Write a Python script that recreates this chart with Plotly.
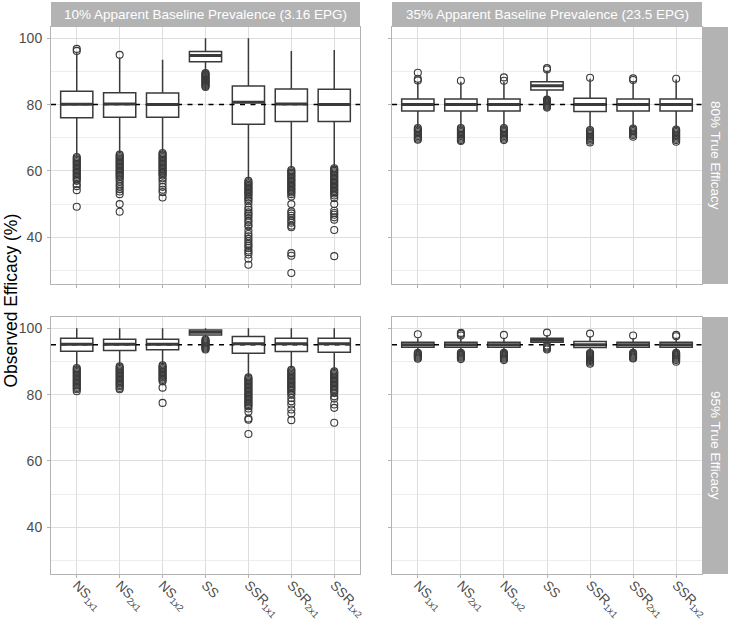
import plotly.graph_objects as go

# ---------------- DATA ----------------
categories = ["NS<sub>1x1</sub>", "NS<sub>2x1</sub>", "NS<sub>1x2</sub>", "SS",
              "SSR<sub>1x1</sub>", "SSR<sub>2x1</sub>", "SSR<sub>1x2</sub>"]
col_labels = ["10% Apparent Baseline Prevalence (3.16 EPG)",
              "35% Apparent Baseline Prevalence (23.5 EPG)"]
row_labels = ["80% True Efficacy", "95% True Efficacy"]
true_efficacy = [80, 95]
y_ticks = [40, 60, 80, 100]

# Panel: 10% prevalence, 80% true efficacy
tl_q3 = [84.0, 83.6, 83.5, 96.0, 85.6, 84.7, 84.6]
tl_med = [80.1, 80.2, 80.0, 94.8, 80.7, 80.2, 80.0]
tl_q1 = [76.0, 76.2, 76.2, 92.9, 74.1, 74.9, 74.9]
tl_hi = [95.5, 94.2, 93.5, 100.0, 100.0, 96.2, 96.5]
tl_lo = [64.6, 65.3, 65.8, 89.8, 57.3, 60.8, 61.3]
tl_out = [
    [96.2, 96.8, 64.2, 63.8, 63.4, 63.0, 62.6, 62.2, 61.8, 61.4, 61.0, 60.6, 60.2, 59.8, 59.4,
     59.0, 58.6, 58.2, 57.8, 57.4, 57.0, 56.0, 55.4, 54.2, 49.2],
    [95.0, 64.9, 64.5, 64.1, 63.7, 63.3, 62.9, 62.5, 62.1, 61.7, 61.3, 60.9, 60.5, 60.1, 59.7,
     59.3, 58.9, 58.5, 58.1, 57.5, 56.8, 56.0, 55.3, 54.5, 53.8, 53.0, 50.0, 47.7],
    [65.4, 65.0, 64.6, 64.2, 63.8, 63.4, 63.0, 62.6, 62.2, 61.8, 61.4, 61.0, 60.6, 60.2, 59.8,
     59.4, 59.0, 58.6, 57.8, 57.2, 56.2, 55.2, 54.3, 53.6, 52.0],
    [89.5, 89.2, 88.9, 88.6, 88.3, 88.0, 87.7, 87.4, 87.1, 86.8, 86.5, 86.2, 85.9, 85.6, 85.3],
    [57.0, 56.6, 56.2, 55.8, 55.4, 55.0, 54.6, 54.2, 53.8, 53.4, 53.0, 52.6, 52.0, 51.5, 51.0,
     50.2, 49.0, 48.3, 47.5, 47.0, 46.5, 45.8, 45.0, 44.5, 43.6, 43.3, 42.0, 41.0, 40.3, 39.5,
     38.8, 38.0, 37.4, 36.8, 36.0, 35.5, 34.8, 33.5, 31.7],
    [60.3, 59.9, 59.5, 59.1, 58.7, 58.3, 57.9, 57.5, 57.1, 56.7, 56.3, 55.9, 55.5, 55.1, 54.7,
     54.3, 53.9, 53.5, 53.0, 52.3, 50.0, 47.8, 47.2, 46.5, 45.8, 45.0, 44.4, 43.5, 43.0, 35.2,
     34.4, 29.2],
    [60.8, 60.4, 60.0, 59.6, 59.2, 58.8, 58.4, 58.0, 57.6, 57.2, 56.8, 56.4, 56.0, 55.6, 55.2,
     54.8, 54.4, 54.0, 53.6, 53.2, 52.6, 51.8, 50.0, 48.0, 47.3, 46.8, 46.0, 45.3, 42.2, 34.3],
]

# Panel: 35% prevalence, 80% true efficacy
tr_q3 = [81.7, 81.7, 81.7, 86.9, 81.9, 81.7, 81.7]
tr_med = [80.0, 80.0, 80.0, 85.7, 80.0, 80.0, 80.0]
tr_q1 = [78.1, 78.1, 78.1, 84.4, 77.9, 78.1, 78.1]
tr_hi = [86.9, 86.9, 86.9, 90.2, 87.8, 87.0, 87.6]
tr_lo = [73.2, 73.2, 73.2, 81.8, 72.7, 73.2, 72.8]
tr_out = [
    [87.3, 87.8, 89.6, 72.9, 72.5, 72.1, 71.7, 71.3, 70.9, 70.5, 70.1, 69.7, 69.4],
    [87.2, 72.9, 72.5, 72.1, 71.7, 71.3, 70.9, 70.5, 70.1, 69.7, 69.3, 69.0],
    [87.2, 88.2, 72.9, 72.5, 72.1, 71.7, 71.3, 70.9, 70.5, 70.1, 69.7, 69.3],
    [90.6, 91.0, 81.5, 81.2, 80.9, 80.6, 80.3, 80.0, 79.7, 79.4, 79.1],
    [88.1, 72.3, 71.9, 71.5, 71.1, 70.7, 70.3, 69.9, 69.5, 69.1, 68.6],
    [87.4, 87.9, 72.8, 72.4, 72.0, 71.6, 71.2, 70.8, 70.3],
    [87.8, 72.5, 72.1, 71.7, 71.3, 70.9, 70.5, 70.1, 69.7, 69.3, 68.8],
]

# Panel: 10% prevalence, 95% true efficacy
bl_q3 = [97.0, 96.7, 96.7, 99.5, 97.5, 97.0, 97.0]
bl_med = [95.2, 95.2, 95.2, 98.8, 95.3, 95.3, 95.3]
bl_q1 = [93.1, 93.3, 93.5, 98.0, 92.5, 93.0, 92.8]
bl_hi = [100.0, 100.0, 100.0, 100.0, 100.0, 100.0, 100.0]
bl_lo = [88.2, 88.7, 89.0, 97.3, 85.6, 87.9, 87.4]
bl_out = [
    [88.0, 87.6, 87.2, 86.8, 86.4, 86.0, 85.6, 85.2, 84.8, 84.4, 84.0, 83.6, 83.2, 82.8, 82.4,
     82.0, 81.6, 81.0],
    [88.5, 88.1, 87.7, 87.3, 86.9, 86.5, 86.1, 85.7, 85.3, 84.9, 84.5, 84.1, 83.7, 83.3, 82.9,
     82.5, 82.0, 81.6],
    [88.8, 88.4, 88.0, 87.6, 87.2, 86.8, 86.4, 86.0, 85.6, 85.2, 84.8, 84.4, 84.0, 82.1, 77.5],
    [96.6, 96.3, 96.0, 95.7, 95.4, 95.1, 94.8, 94.5, 94.2, 93.9, 93.6],
    [85.2, 84.8, 84.4, 84.0, 83.6, 83.2, 82.8, 82.4, 82.0, 81.6, 81.2, 80.8, 80.4, 80.0, 79.6,
     79.2, 78.8, 78.4, 78.0, 77.6, 77.2, 76.8, 76.5, 75.8, 74.8, 72.8, 72.4, 68.1],
    [87.5, 87.1, 86.7, 86.3, 85.9, 85.5, 85.1, 84.7, 84.3, 83.9, 83.5, 83.1, 82.7, 82.3, 81.9,
     81.5, 81.1, 80.5, 80.0, 79.0, 78.0, 77.0, 75.5, 74.3, 72.3],
    [87.0, 86.6, 86.2, 85.8, 85.4, 85.0, 84.6, 84.2, 83.8, 83.4, 83.0, 82.6, 82.2, 81.8, 81.4,
     81.0, 80.5, 79.5, 78.8, 77.0, 76.0, 71.5],
]

# Panel: 35% prevalence, 95% true efficacy
br_q3 = [95.8, 95.8, 95.8, 97.0, 96.0, 95.8, 95.8]
br_med = [95.0, 95.0, 95.0, 96.4, 95.0, 95.0, 95.0]
br_q1 = [94.3, 94.3, 94.3, 95.8, 94.2, 94.3, 94.3]
br_hi = [97.0, 97.0, 97.0, 97.9, 97.5, 97.1, 97.1]
br_lo = [92.9, 92.9, 92.9, 95.2, 92.8, 92.9, 92.9]
br_out = [
    [98.2, 92.6, 92.3, 92.0, 91.7, 91.4, 91.1, 90.8],
    [97.8, 98.3, 98.6, 92.6, 92.3, 92.0, 91.7, 91.4, 91.1, 90.7],
    [98.0, 92.6, 92.3, 92.0, 91.7, 91.4, 91.1, 90.8, 90.4],
    [98.7, 94.8, 94.5, 94.2, 93.9, 93.6],
    [98.4, 92.5, 92.2, 91.9, 91.6, 91.3, 91.0, 90.7, 90.4, 90.1, 89.7, 89.3],
    [97.8, 92.6, 92.3, 92.0, 91.7, 91.4, 91.1, 90.9],
    [98.0, 97.6, 92.6, 92.3, 92.0, 91.7, 91.4, 91.1, 90.8, 90.4, 89.9],
]

# ---------------- STYLE / LAYOUT ----------------
W, H = 730, 620
FONT = "Liberation Sans, Arial, Helvetica, sans-serif"
DARK = "#3a3a3a"
STRIP = "#b3b3b3"
GRID = "#dedede"
MINOR = "#ededed"
BOXW = 0.75

col_px = [(51, 360), (392, 702)]
row_px = [(27, 284), (317, 574)]

panels = [
    (0, 0, tl_q1, tl_med, tl_q3, tl_lo, tl_hi, tl_out),
    (0, 1, tr_q1, tr_med, tr_q3, tr_lo, tr_hi, tr_out),
    (1, 0, bl_q1, bl_med, bl_q3, bl_lo, bl_hi, bl_out),
    (1, 1, br_q1, br_med, br_q3, br_lo, br_hi, br_out),
]

xpos = list(range(1, len(categories) + 1))
fig = go.Figure()
layout = dict(
    width=W, height=H, margin=dict(l=0, r=0, t=0, b=0, autoexpand=False),
    paper_bgcolor="white", plot_bgcolor="white", showlegend=False,
    font=dict(family=FONT, color="#4d4d4d"),
)
shapes, annotations = [], []

for k, (r, c, q1, med, q3, lo, hi, outs) in enumerate(panels):
    idx = "" if k == 0 else str(k + 1)
    xa, ya = "x" + idx, "y" + idx
    x0, x1 = col_px[c]
    y0, y1 = row_px[r]
    layout["xaxis" + idx] = dict(
        domain=[x0 / W, x1 / W], anchor=ya, range=[0.4, 7.6],
        tickvals=xpos, ticktext=categories, showticklabels=(r == 1),
        tickangle=45, tickfont=dict(size=13.5, color="#4d4d4d", family=FONT),
        ticklabelstandoff=-6,
        showgrid=True, gridcolor=GRID, gridwidth=1, zeroline=False,
        showline=True, mirror=True, linecolor=STRIP, linewidth=1,
        ticks="outside", ticklen=3, tickcolor=STRIP, tickwidth=1, automargin=False,
    )
    layout["yaxis" + idx] = dict(
        domain=[1 - y1 / H, 1 - y0 / H], anchor=xa, range=[25.9, 103.4],
        tickvals=y_ticks, showticklabels=(c == 0),
        tickfont=dict(size=14, color="#4d4d4d", family=FONT),
        ticklabelstandoff=2,
        showgrid=True, gridcolor=GRID, gridwidth=1, zeroline=False,
        minor=dict(dtick=10, tick0=0, showgrid=True, gridcolor=MINOR, gridwidth=0.6),
        showline=True, mirror=True, linecolor=STRIP, linewidth=1,
        ticks="outside", ticklen=3, tickcolor=STRIP, tickwidth=1, automargin=False,
    )

    te = true_efficacy[r]
    fig.add_trace(go.Scatter(
        x=[0.4, 7.6], y=[te, te], mode="lines", xaxis=xa, yaxis=ya,
        line=dict(color="black", width=1.5, dash="5px,5.5px"), hoverinfo="skip"))

    fig.add_trace(go.Box(
        x=xpos, q1=q1, median=med, q3=q3, lowerfence=lo, upperfence=hi,
        width=BOXW, whiskerwidth=0, boxpoints=False,
        fillcolor="white", line=dict(color=DARK, width=1.5),
        xaxis=xa, yaxis=ya, hoverinfo="skip"))

    mx, my = [], []
    for xi, m in zip(xpos, med):
        mx += [xi - BOXW / 2, xi + BOXW / 2, None]
        my += [m, m, None]
    fig.add_trace(go.Scatter(x=mx, y=my, mode="lines", xaxis=xa, yaxis=ya,
                             line=dict(color=DARK, width=3), hoverinfo="skip"))

    ox, oy = [], []
    for xi, vals in zip(xpos, outs):
        ox += [xi] * len(vals)
        oy += vals
    fig.add_trace(go.Scatter(
        x=ox, y=oy, mode="markers", xaxis=xa, yaxis=ya,
        marker=dict(symbol="circle-open", size=7, color=DARK, line=dict(width=1.1)),
        hoverinfo="skip"))

for c, (x0, x1) in enumerate(col_px):
    shapes.append(dict(type="rect", xref="paper", yref="paper",
                       x0=x0 / W, x1=x1 / W, y0=1 - 27 / H, y1=1 - 2 / H,
                       fillcolor=STRIP, line=dict(width=0)))
    annotations.append(dict(text=col_labels[c], xref="paper", yref="paper",
                            x=(x0 + x1) / 2 / W, y=1 - 14.5 / H, showarrow=False,
                            font=dict(size=13.5, color="white", family=FONT),
                            xanchor="center", yanchor="middle"))
for r, (y0, y1) in enumerate(row_px):
    shapes.append(dict(type="rect", xref="paper", yref="paper",
                       x0=702.5 / W, x1=728 / W, y0=1 - y1 / H, y1=1 - y0 / H,
                       fillcolor=STRIP, line=dict(width=0)))
    annotations.append(dict(text=row_labels[r], xref="paper", yref="paper",
                            x=715.5 / W, y=1 - (y0 + y1) / 2 / H, showarrow=False,
                            textangle=90,
                            font=dict(size=13.5, color="white", family=FONT),
                            xanchor="center", yanchor="middle"))

annotations.append(dict(text="Observed Efficacy (%)", xref="paper", yref="paper",
                        x=11 / W, y=1 - 300.5 / H, showarrow=False, textangle=-90,
                        font=dict(size=17.5, color="black", family=FONT),
                        xanchor="center", yanchor="middle"))

layout["shapes"] = shapes
layout["annotations"] = annotations
fig.update_layout(**layout)
fig.write_html("out.html", config={"displayModeBar": False},
               post_script="document.body.style.margin='0';document.body.style.overflow='hidden';")
